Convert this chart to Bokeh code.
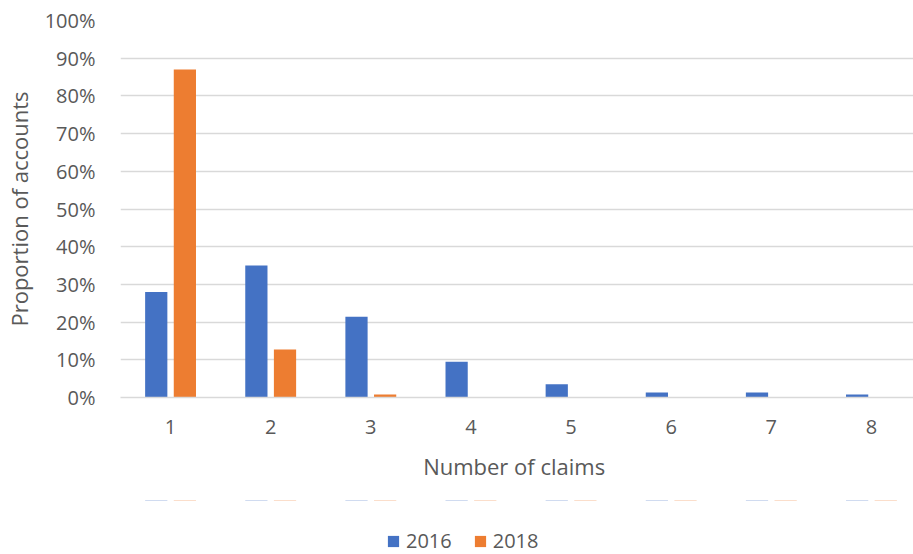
from bokeh.plotting import figure
from bokeh.layouts import column
from bokeh.models import (ColumnDataSource, Range1d, FixedTicker, PrintfTickFormatter,
                          Legend, LegendItem)
from bokeh.embed import file_html
from bokeh.resources import INLINE

# Number of claims per account and the share of accounts (%) for each year
claims = [1, 2, 3, 4, 5, 6, 7, 8]
share_2016 = [28, 35, 21.4, 9.5, 3.5, 1.3, 1.3, 0.8]
share_2018 = [87, 12.7, 0.8, 0, 0, 0, 0, 0]
y_ticks = [0, 10, 20, 30, 40, 50, 60, 70, 80, 90, 100]
series_names = ["2016", "2018"]

BLUE = "#4472C4"
ORANGE = "#ED7D31"
GREY_TEXT = "#595959"
GRID = "#D9D9D9"
FONT = "Open Sans"

offset = 0.143
bar_w = 0.222

src = ColumnDataSource(dict(
    x16=[c - offset for c in claims],
    x18=[c + offset for c in claims],
    y16=share_2016,
    y18=share_2018,
))

p = figure(width=913, height=500, output_backend="svg", toolbar_location=None,
           x_range=Range1d(0.5, 8.42), y_range=Range1d(0, 100),
           min_border_left=120, min_border_right=0, min_border_top=20,
           min_border_bottom=103)
p.outline_line_color = None
p.background_fill_color = "white"
p.border_fill_color = "white"

p.vbar(x="x16", top="y16", width=bar_w, source=src, fill_color=BLUE, line_color=None)
p.vbar(x="x18", top="y18", width=bar_w, source=src, fill_color=ORANGE, line_color=None)

# y axis: percentage ticks, no axis line
p.yaxis.ticker = FixedTicker(ticks=y_ticks)
p.yaxis.formatter = PrintfTickFormatter(format="%d%%")
p.yaxis.axis_line_color = None
p.yaxis.major_tick_line_color = None
p.yaxis.minor_tick_line_color = None
p.yaxis.major_label_standoff = 19
p.yaxis.major_label_text_font = FONT
p.yaxis.major_label_text_font_size = "20px"
p.yaxis.major_label_text_color = GREY_TEXT
p.yaxis.axis_label = "Proportion of accounts"
p.yaxis.axis_label_text_font = FONT
p.yaxis.axis_label_text_font_size = "22px"
p.yaxis.axis_label_text_font_style = "normal"
p.yaxis.axis_label_text_color = GREY_TEXT
p.yaxis.axis_label_standoff = 8

# x axis: claim counts
p.xaxis.ticker = FixedTicker(ticks=claims)
p.xaxis.axis_line_color = GRID
p.xaxis.axis_line_width = 1.5
p.xaxis.major_tick_line_color = None
p.xaxis.minor_tick_line_color = None
p.xaxis.major_label_standoff = 16
p.xaxis.major_label_text_font = FONT
p.xaxis.major_label_text_font_size = "20px"
p.xaxis.major_label_text_color = GREY_TEXT
p.xaxis.axis_label = "Number  of claims"
p.xaxis.axis_label_text_font = FONT
p.xaxis.axis_label_text_font_size = "22px"
p.xaxis.axis_label_text_font_style = "normal"
p.xaxis.axis_label_text_color = GREY_TEXT
p.xaxis.axis_label_standoff = 14

p.xgrid.grid_line_color = None
p.ygrid.ticker = FixedTicker(ticks=y_ticks)
p.ygrid.grid_line_color = GRID
p.ygrid.grid_line_width = 1.5

# Legend strip underneath the chart; its bars lie far outside its visible
# y-range, so only the legend keys show
leg = figure(width=913, height=54, output_backend="svg", toolbar_location=None,
             x_range=Range1d(0.5, 8.42), y_range=Range1d(-1000, -999),
             min_border_left=0, min_border_right=0, min_border_top=0, min_border_bottom=0)
leg.axis.visible = False
leg.grid.visible = False
leg.outline_line_color = None
leg.background_fill_color = "white"
leg.border_fill_color = "white"
k16 = leg.vbar(x="x16", top="y16", width=bar_w, source=src, fill_color=BLUE, line_color=None)
k18 = leg.vbar(x="x18", top="y18", width=bar_w, source=src, fill_color=ORANGE, line_color=None)

legend = Legend(items=[LegendItem(label=series_names[0], renderers=[k16]),
                       LegendItem(label=series_names[1], renderers=[k18])],
                location=(266, 0), orientation="horizontal",
                padding=0, margin=0, spacing=21, label_standoff=6,
                glyph_width=14, glyph_height=14,
                label_text_font=FONT, label_text_font_size="20px",
                label_text_color=GREY_TEXT,
                background_fill_alpha=0, border_line_color=None)
leg.add_layout(legend)

layout = column(p, leg, spacing=0)
open("out.html", "w").write(file_html(layout, INLINE))
